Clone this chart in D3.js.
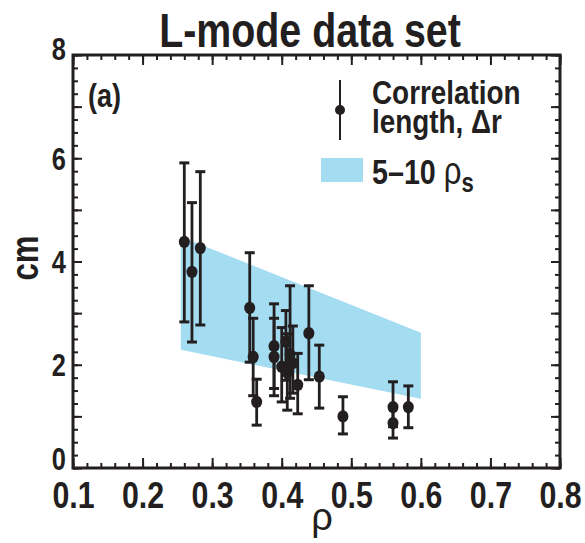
<!DOCTYPE html>
<html>
<head>
<meta charset="utf-8">
<script src="https://cdn.jsdelivr.net/npm/d3@7"></script>
<style>
  body { margin: 0; background: #fff; }
  text { font-family: "Liberation Sans", Arial, sans-serif; font-weight: bold; fill: #231f20; }
</style>
</head>
<body>
<script>
// correlation length points: rho, value, lower and upper end of error bar (cm)
const rho    = [0.260, 0.271, 0.283, 0.354, 0.359, 0.364, 0.389, 0.389, 0.400, 0.406, 0.408, 0.412, 0.416, 0.423, 0.439, 0.454, 0.488, 0.560, 0.560, 0.582];
const dr     = [4.38, 3.80, 4.26, 3.10, 2.15, 1.28, 2.36, 2.15, 1.96, 2.45, 1.85, 2.20, 2.03, 1.61, 2.61, 1.77, 1.00, 1.18, 0.87, 1.18];
const drLow  = [2.83, 2.44, 2.77, 2.05, 1.40, 0.83, 1.54, 1.40, 1.28, 1.70, 1.12, 1.35, 1.45, 1.05, 1.71, 1.16, 0.66, 0.80, 0.58, 0.78];
const drHigh = [5.91, 5.14, 5.74, 4.17, 2.90, 1.72, 3.18, 2.90, 2.72, 3.05, 2.60, 3.53, 2.75, 2.22, 3.53, 2.38, 1.38, 1.67, 1.15, 1.59];

// 5-10 rho_s band
const bandRho  = [0.255, 0.600];
const bandLow  = [2.29, 1.34];
const bandHigh = [4.48, 2.62];

const xTicks = [0.1, 0.2, 0.3, 0.4, 0.5, 0.6, 0.7, 0.8];
const yTicks = [0, 1, 2, 3, 4, 5, 6, 7, 8];

var w = 585, h = 543;
var mLeft = 73, mRight = 560, mTop = 55, mBottom = 468;
var ink = "#231f20";
var narrow = 0.82; // squeeze for a condensed look

var x = d3.scaleLinear().domain([0.1, 0.8]).range([mLeft, mRight]);
var y = d3.scaleLinear().domain([0, 8]).range([mBottom, mTop]);

var svg = d3.select("body").append("svg").attr("width", w).attr("height", h);

// band
var band = bandRho.map((r, i) => ({ r: r, lo: bandLow[i], hi: bandHigh[i] }));
svg.append("path")
  .datum(band)
  .attr("fill", "#a4dcf1")
  .attr("d", d3.area().x(d => x(d.r)).y0(d => y(d.lo)).y1(d => y(d.hi)));

// error bars
var pts = rho.map((r, i) => ({ r: r, v: dr[i], lo: drLow[i], hi: drHigh[i] }));

var eb = svg.append("g").selectAll("g").data(pts).enter().append("g");
eb.append("line")
  .attr("x1", d => x(d.r)).attr("x2", d => x(d.r))
  .attr("y1", d => y(d.lo)).attr("y2", d => y(d.hi))
  .attr("stroke", ink).attr("stroke-width", 2.8);
eb.append("line")
  .attr("x1", d => x(d.r) - 5).attr("x2", d => x(d.r) + 5)
  .attr("y1", d => y(d.hi)).attr("y2", d => y(d.hi))
  .attr("stroke", ink).attr("stroke-width", 3);
eb.append("line")
  .attr("x1", d => x(d.r) - 5).attr("x2", d => x(d.r) + 5)
  .attr("y1", d => y(d.lo)).attr("y2", d => y(d.lo))
  .attr("stroke", ink).attr("stroke-width", 3);
eb.append("ellipse")
  .attr("cx", d => x(d.r)).attr("cy", d => y(d.v))
  .attr("rx", 5.5).attr("ry", 6.2)
  .attr("fill", ink);

// ticks on all four sides, pointing inward
function ticks(axis, pos, vals, len, fmt) {
  var g = svg.append("g").attr("transform", pos)
    .call(axis.tickValues(vals).tickSize(-len).tickFormat(fmt || ""));
  g.select(".domain").remove();
  g.selectAll("line").attr("stroke", ink).attr("stroke-width", 2);
  g.attr("font-family", null).attr("font-size", null);
  return g;
}
function squeeze(sel) {
  sel.each(function () {
    var t = d3.select(this);
    var tx = +t.attr("x") || 0, ty = +t.attr("y") || 0;
    t.attr("transform", "translate(" + tx + "," + ty + ") scale(" + narrow + ",1) translate(" + -tx + "," + -ty + ")");
  });
}
var xMinor = d3.range(0.1, 0.8001, 0.02);
var yMinor = d3.range(0, 8.001, 0.25);

ticks(d3.axisBottom(x), "translate(0," + mBottom + ")", xMinor, 5);
ticks(d3.axisTop(x), "translate(0," + mTop + ")", xMinor, 5);
ticks(d3.axisLeft(y), "translate(" + mLeft + ",0)", yMinor, 5);
ticks(d3.axisRight(y), "translate(" + mRight + ",0)", yMinor, 5);

var xb = ticks(d3.axisBottom(x), "translate(0," + mBottom + ")", xTicks, 10, d3.format(".1f"));
xb.selectAll("text").attr("y", 14).attr("dy", "0.71em").style("font-size", "37px").call(squeeze);
ticks(d3.axisTop(x), "translate(0," + mTop + ")", xTicks, 10);
var yl = ticks(d3.axisLeft(y), "translate(" + mLeft + ",0)", yTicks, 9, d => (d % 2 === 0 ? d : ""));
// end labels sit a little higher than their ticks
yl.selectAll("text").attr("x", -7).attr("y", d => (d === 0 ? -10 : d === 8 ? -7 : 0))
  .attr("dy", "0.36em").style("font-size", "31px").call(squeeze);
ticks(d3.axisRight(y), "translate(" + mRight + ",0)", yTicks, 9);

// frame
svg.append("rect")
  .attr("x", mLeft).attr("y", mTop)
  .attr("width", mRight - mLeft).attr("height", mBottom - mTop)
  .attr("fill", "none").attr("stroke", ink).attr("stroke-width", 3);

// title and labels
svg.append("text").attr("x", 310).attr("y", 47).attr("text-anchor", "middle")
  .style("font-size", "48px").text("L-mode data set").call(squeeze);
svg.append("text").attr("x", 88).attr("y", 107).style("font-size", "33px").text("(a)").call(squeeze);
svg.append("text").attr("transform", "translate(38,258) rotate(-90) scale(" + narrow + ",1)").attr("text-anchor", "middle")
  .style("font-size", "38px").text("cm");
svg.append("text").attr("x", 322).attr("y", 530).attr("text-anchor", "middle")
  .style("font-size", "38px").style("font-weight", "normal")
  .text("ρ");

// legend
var lg = svg.append("g");
lg.append("line").attr("x1", 340).attr("x2", 340).attr("y1", 80).attr("y2", 140)
  .attr("stroke", ink).attr("stroke-width", 2);
lg.append("circle").attr("cx", 340).attr("cy", 110).attr("r", 5).attr("fill", ink);
lg.append("text").attr("x", 372).attr("y", 104).style("font-size", "34px").text("Correlation").call(squeeze);
lg.append("text").attr("x", 372).attr("y", 133).style("font-size", "34px").text("length, Δr").call(squeeze);
lg.append("rect").attr("x", 321).attr("y", 158).attr("width", 42).attr("height", 24).attr("fill", "#a4dcf1");
var t = lg.append("text").attr("x", 372).attr("y", 184).style("font-size", "35px");
t.append("tspan").text("5–10 ");
t.append("tspan").style("font-weight", "normal").style("font-size", "38px").text("ρ");
t.append("tspan").attr("dy", 8).style("font-size", "27px").text("s");
t.call(squeeze);
</script>
</body>
</html>
